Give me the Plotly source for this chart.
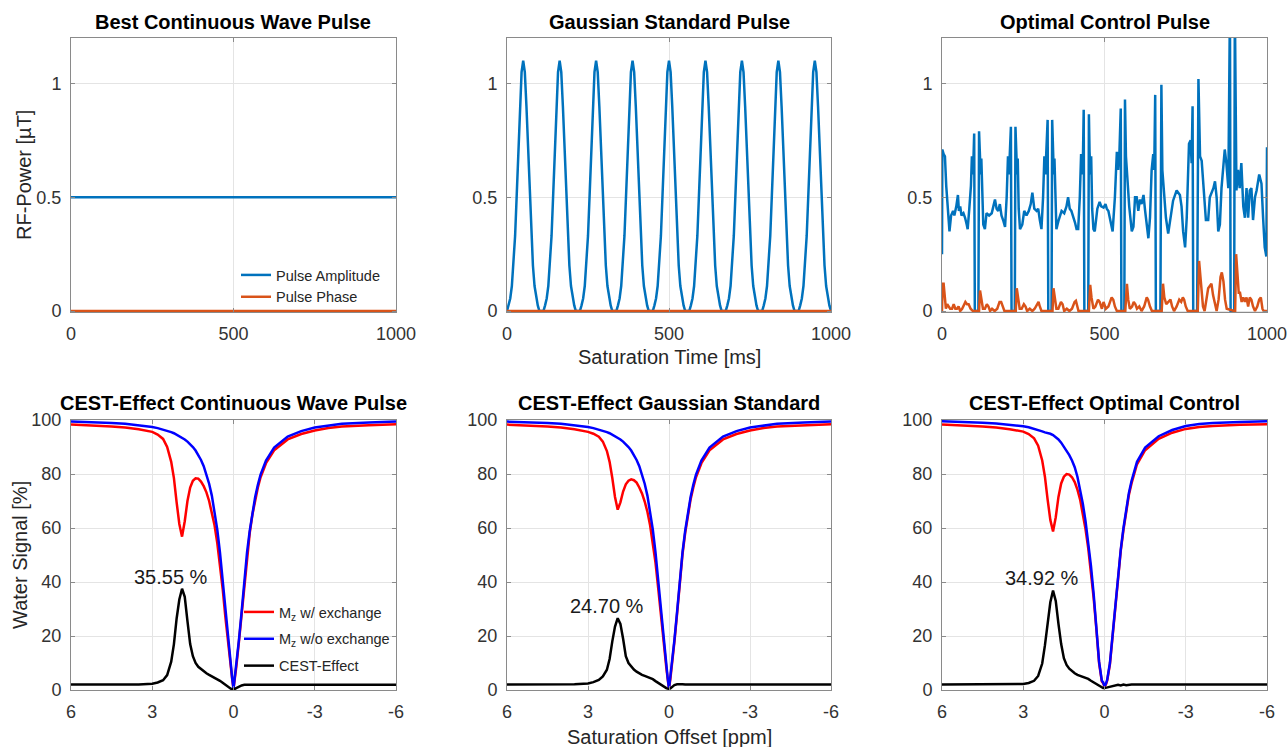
import plotly.graph_objects as go

W, H = 1288, 747

# ---------------- top row: RF pulses ----------------
cw_time = [0, 1000]
cw_amp = [0.5, 0.5]
cw_phase = [0.0, 0.0]

gauss_centers = [50, 162.5, 275, 387.5, 500, 612.5, 725, 837.5, 950]
gauss_shape_dt = [-50, -45, -40, -35, -30, -25, -20, -15, -10, -5, 0,
                  5, 10, 15, 20, 25, 30, 35, 40, 45, 50]
gauss_shape_amp = [0.0, 0.025, 0.055, 0.11, 0.20, 0.33, 0.51, 0.71, 0.90, 1.05, 1.10,
                   1.05, 0.90, 0.71, 0.51, 0.33, 0.20, 0.11, 0.055, 0.025, 0.0]
gauss_phase_time = [0, 1000]
gauss_phase = [0.0, 0.0]

oc_time = [0, 1, 5, 9, 13, 17, 23, 28, 34, 38, 44, 49, 52, 56, 60, 66, 71, 76, 79, 84, 89, 92, 95, 97, 99, 101, 112, 114, 116, 119, 121,
           124, 127, 132, 137, 145, 153, 158, 163, 168, 173, 178, 183, 188, 194, 199, 203, 206, 209, 212, 214, 224, 226, 228, 231, 233,
           236, 240, 247, 253, 260, 267, 273, 278, 284, 291, 296, 301, 306, 311, 315, 318, 321, 325, 327, 337, 339, 341, 344, 346,
           349, 352, 359, 368, 376, 383, 388, 393, 398, 403, 409, 414, 419, 424, 428, 431, 434, 436, 438, 450, 452, 454, 457, 459,
           462, 466, 470, 478, 485, 490, 497, 503, 507, 512, 517, 525, 532, 538, 542, 546, 550, 552, 561, 563, 566,
           571, 576, 584, 589, 594, 599, 604, 609, 614, 620, 625, 630, 635, 640, 645, 650, 653, 656, 658, 672, 675, 678,
           683, 689, 696, 703, 711, 722, 732, 737, 742, 748, 753, 760, 765, 768, 771, 773, 785, 789, 794,
           799, 804, 812, 819, 824, 835, 840, 845, 850, 855, 860, 870, 875, 881, 886, 888, 899, 901, 906,
           911, 916, 921, 927, 932, 937, 942, 947, 952, 957, 963, 968, 976, 983, 988, 993, 998, 1000]
oc_amp = [0.25, 0.71, 0.69, 0.68, 0.55, 0.45, 0.35, 0.42, 0.44, 0.42, 0.46, 0.51, 0.44, 0.46, 0.42, 0.43, 0.41, 0.38, 0.36, 0.45, 0.55, 0.68, 0.60, 0.68, 0.78, 0.0, 0.0, 0.79, 0.68, 0.60, 0.67,
          0.45, 0.38, 0.36, 0.43, 0.42, 0.43, 0.46, 0.49, 0.45, 0.44, 0.47, 0.42, 0.40, 0.37, 0.50, 0.68, 0.60, 0.68, 0.81, 0.0, 0.0, 0.81, 0.68, 0.60, 0.67,
          0.45, 0.36, 0.38, 0.44, 0.42, 0.44, 0.47, 0.52, 0.45, 0.44, 0.45, 0.40, 0.36, 0.50, 0.68, 0.60, 0.69, 0.84, 0.0, 0.0, 0.84, 0.69, 0.60, 0.67,
          0.45, 0.36, 0.40, 0.44, 0.43, 0.46, 0.50, 0.45, 0.44, 0.42, 0.39, 0.36, 0.36, 0.50, 0.69, 0.60, 0.70, 0.885, 0.0, 0.0, 0.865, 0.70, 0.60, 0.68,
          0.45, 0.36, 0.35, 0.45, 0.48, 0.46, 0.455, 0.47, 0.45, 0.44, 0.41, 0.35, 0.50, 0.70, 0.62, 0.70, 0.89, 0.0, 0.0, 0.93, 0.68,
          0.56, 0.46, 0.35, 0.37, 0.50, 0.50, 0.44, 0.49, 0.47, 0.51, 0.44, 0.37, 0.32, 0.41, 0.62, 0.69, 0.62, 0.95, 0.0, 0.0, 0.995, 0.62,
          0.54, 0.41, 0.34, 0.40, 0.485, 0.53, 0.51, 0.46, 0.35, 0.28, 0.41, 0.735, 0.75, 0.65, 0.90, 0.0, 0.0, 1.02, 0.68,
          0.66, 0.54, 0.40, 0.40, 0.50, 0.54, 0.57, 0.50, 0.35, 0.38, 0.54, 0.71, 0.65, 0.54, 1.35, 0.0, 0.0, 1.35, 0.53,
          0.62, 0.54, 0.65, 0.46, 0.41, 0.54, 0.41, 0.53, 0.54, 0.40, 0.50, 0.53, 0.60, 0.56, 0.41, 0.28, 0.24, 0.72]

oc_phase_time = [0, 2, 5, 9, 12, 16, 20, 25, 31, 36, 41, 46, 51, 56, 62, 68, 72, 77, 82, 88, 95, 112,
                 114, 117, 121, 126, 132, 138, 143, 148, 154, 162, 170, 177, 182, 187, 192, 224,
                 227, 230, 234, 239, 245, 252, 257, 262, 270, 278, 285, 293, 297, 301, 306, 337,
                 340, 343, 347, 352, 358, 366, 371, 376, 384, 392, 400, 408, 412, 416, 420, 450,
                 452, 456, 460, 466, 472, 480, 485, 492, 497, 504, 512, 522, 527, 532, 538, 561,
                 564, 569, 573, 578, 585, 590, 595, 600, 607, 614, 622, 630, 634, 640, 646, 672,
                 676, 680, 684, 690, 697, 703, 708, 714, 722, 730, 736, 741, 745, 750, 756, 785,
                 787, 791, 795, 799, 803, 808, 814, 819, 824, 829, 834, 839, 845, 851, 857, 861, 866, 871, 876, 899,
                 902, 905, 909, 913, 917, 922, 927, 932, 937, 942, 947, 952, 957, 963, 970, 976, 981, 986, 990, 1000]
oc_phase = [0.0, 0.12, 0.12, 0.04, 0.01, 0.03, 0.02, 0.01, 0.01, 0.03, 0.01, 0.01, 0.02, 0.0, 0.01, 0.03, 0.04, 0.03, 0.03, 0.01, 0.0, 0.0,
            0.0, 0.09, 0.05, 0.01, 0.01, 0.03, 0.02, 0.0, 0.01, 0.0, 0.01, 0.04, 0.04, 0.02, 0.0, 0.0,
            0.0, 0.10, 0.05, 0.01, 0.01, 0.03, 0.02, 0.0, 0.01, 0.0, 0.01, 0.03, 0.04, 0.02, 0.0, 0.0,
            0.0, 0.10, 0.05, 0.01, 0.01, 0.04, 0.03, 0.0, 0.01, 0.0, 0.01, 0.04, 0.045, 0.02, 0.0, 0.0,
            0.0, 0.115, 0.06, 0.01, 0.02, 0.05, 0.04, 0.01, 0.04, 0.01, 0.02, 0.06, 0.05, 0.02, 0.0, 0.0,
            0.0, 0.12, 0.05, 0.01, 0.02, 0.04, 0.03, 0.01, 0.02, 0.0, 0.02, 0.06, 0.05, 0.02, 0.0, 0.0,
            0.0, 0.12, 0.06, 0.03, 0.04, 0.05, 0.02, 0.0, 0.02, 0.05, 0.04, 0.06, 0.05, 0.02, 0.0, 0.0,
            0.0, 0.22, 0.15, 0.10, 0.02, 0.0, 0.05, 0.10, 0.11, 0.12, 0.07, 0.03, 0.0, 0.05, 0.15, 0.17, 0.13, 0.05, 0.01, 0.0,
            0.0, 0.25, 0.14, 0.08, 0.08, 0.04, 0.06, 0.04, 0.06, 0.02, 0.06, 0.05, 0.02, 0.0, 0.02, 0.05, 0.06, 0.01, 0.0, 0.0]

# ---------------- bottom row: Z-spectra ----------------
offsets = [6, 5.5, 5, 4.5, 4, 3.5, 3, 2.8, 2.6, 2.45, 2.3, 2.2, 2.1, 2.0,
           1.9, 1.8, 1.7, 1.6, 1.5, 1.4, 1.3, 1.2, 1.1, 1.0,
           0.9, 0.8, 0.7, 0.6, 0.5, 0.4, 0.3, 0.2, 0.1, 0.05, 0.0,
           -0.05, -0.1, -0.2, -0.3, -0.4, -0.5, -0.6, -0.7, -0.8, -0.9, -1.0,
           -1.2, -1.5, -2.0, -2.5, -3.0, -3.5, -4.0, -5.0, -6.0]

cw_mz_wo = [99.4, 99.3, 99.1, 98.9, 98.6, 98.1, 97.4, 97.0, 96.5, 96.0, 95.5, 95.1, 94.6, 94.1,
            93.5, 92.8, 92.0, 91.1, 90.0, 88.7, 87.1, 85.2, 82.9, 80.0,
            76.4, 72.0, 66.5, 59.5, 51.0, 40.5, 29.0, 18.5, 9.0, 4.5, 0.5,
            4.5, 9.0, 18.5, 29.0, 40.5, 51.0, 59.0, 66.0, 71.5, 76.0, 79.8,
            85.0, 89.8, 93.9, 95.9, 97.2, 98.0, 98.6, 99.1, 99.4]
cw_mz_w = [98.3, 98.1, 97.9, 97.6, 97.2, 96.6, 95.6, 94.6, 93.0, 90.0, 84.5, 78.5, 69.5, 61.5,
           56.8, 62.5, 70.0, 75.0, 77.5, 78.4, 78.3, 77.2, 75.5, 73.2,
           70.0, 66.0, 61.0, 54.5, 47.0, 37.5, 27.0, 17.0, 8.3, 4.2, 0.4,
           4.0, 8.3, 17.8, 28.3, 39.8, 50.2, 58.2, 65.1, 70.6, 75.0, 78.8,
           84.0, 88.8, 92.8, 94.8, 96.1, 97.0, 97.6, 98.1, 98.4]
cw_cest = [2.0, 2.0, 2.0, 2.0, 2.0, 2.0, 2.3, 2.8, 3.6, 5.5, 10.5, 17.0, 26.5, 33.5,
           37.5, 34.5, 25.5, 17.0, 12.5, 10.0, 8.6, 7.7, 6.9, 6.2,
           5.6, 5.1, 4.6, 4.1, 3.4, 2.7, 1.9, 1.1, 0.5, 0.3, 0.25,
           0.4, 0.7, 1.3, 1.7, 1.9, 1.95, 1.95, 1.9, 1.9, 1.9, 1.9,
           1.9, 1.9, 1.9, 1.9, 1.9, 1.9, 1.9, 1.9, 1.9]

gs_mz_wo = [99.4, 99.3, 99.1, 98.9, 98.6, 98.1, 97.4, 97.0, 96.5, 96.0, 95.5, 95.1, 94.6, 94.1,
            93.5, 92.8, 92.0, 91.1, 90.0, 88.7, 87.1, 85.2, 82.9, 80.0,
            76.4, 72.0, 66.5, 59.5, 51.0, 40.5, 29.0, 18.5, 9.0, 4.5, 0.5,
            4.5, 9.0, 18.5, 29.0, 40.5, 51.0, 59.0, 66.0, 71.5, 76.0, 79.8,
            85.0, 89.8, 93.9, 95.9, 97.2, 98.0, 98.6, 99.1, 99.4]
gs_mz_w = [98.3, 98.1, 97.9, 97.6, 97.2, 96.6, 95.6, 94.9, 93.8, 92.0, 88.5, 84.5, 78.5, 71.5,
           66.8, 69.5, 73.5, 76.2, 77.5, 78.0, 77.7, 76.8, 75.0, 72.8,
           69.8, 66.0, 61.0, 54.8, 47.2, 37.7, 27.2, 17.2, 8.4, 4.2, 0.5,
           4.0, 8.3, 17.8, 28.3, 39.8, 50.2, 58.2, 65.1, 70.6, 75.0, 78.8,
           84.0, 88.8, 92.8, 94.8, 96.1, 97.0, 97.6, 98.1, 98.4]
gs_cest = [2.0, 2.0, 2.0, 2.0, 2.0, 2.1, 2.4, 2.9, 3.7, 5.0, 7.5, 11.5, 18.0, 23.5,
           26.6, 24.5, 19.0, 12.5, 10.0, 8.7, 7.6, 6.8, 6.1, 5.6,
           5.2, 4.8, 4.4, 4.0, 3.3, 2.6, 1.9, 1.3, 0.7, 0.5, 0.4,
           0.6, 1.1, 1.8, 2.1, 2.2, 2.1, 2.0, 2.0, 2.0, 2.0, 2.0,
           2.0, 2.0, 2.0, 2.0, 2.0, 2.0, 2.0, 2.0, 2.0]

oc_mz_wo = [99.5, 99.4, 99.2, 99.0, 98.7, 98.3, 97.7, 97.3, 96.8, 96.3, 95.8, 95.4, 95.2, 94.9,
            94.4, 93.7, 92.8, 91.6, 90.2, 88.7, 87.0, 85.0, 82.5, 79.0,
            74.5, 69.0, 62.5, 55.0, 46.0, 35.5, 23.5, 10.5, 3.5, 2.8, 1.5,
            2.2, 3.8, 10.0, 20.5, 31.5, 42.5, 52.0, 60.0, 67.0, 73.0, 77.5,
            84.5, 89.8, 94.0, 96.3, 97.8, 98.5, 98.9, 99.3, 99.5]
oc_mz_w = [98.3, 98.1, 97.9, 97.6, 97.2, 96.6, 95.7, 94.8, 93.2, 90.5, 85.0, 79.0, 70.5, 63.0,
           58.7, 64.0, 71.5, 76.5, 79.0, 80.0, 79.8, 78.8, 77.0, 74.2,
           70.5, 65.5, 59.5, 52.5, 44.0, 34.0, 22.5, 10.0, 3.2, 2.5, 1.3,
           2.0, 3.5, 9.5, 20.0, 31.0, 42.0, 51.5, 59.3, 66.2, 72.2, 76.6,
           83.6, 88.8, 93.0, 95.3, 96.7, 97.4, 97.8, 98.2, 98.4]
oc_cest = [2.0, 2.0, 2.0, 2.0, 2.0, 2.0, 2.2, 2.6, 3.4, 5.2, 9.8, 16.5, 25.5, 32.5,
           36.8, 33.0, 24.5, 17.0, 11.8, 9.3, 7.9, 7.0, 6.2, 5.6,
           5.2, 4.9, 4.6, 4.1, 3.4, 2.8, 2.0, 1.3, 0.8, 0.7, 0.7,
           0.8, 1.0, 1.3, 1.5, 1.6, 1.9, 1.7, 2.0, 1.8, 2.0, 2.0,
           2.0, 2.0, 2.0, 2.0, 2.0, 2.0, 2.0, 2.0, 2.0]

cest_labels = ["35.55 %", "24.70 %", "34.92 %"]
label_offset = 2.3

top_titles = ["Best Continuous Wave Pulse", "Gaussian Standard Pulse", "Optimal Control Pulse"]
bottom_titles = ["CEST-Effect Continuous Wave Pulse", "CEST-Effect Gaussian Standard", "CEST-Effect Optimal Control"]
top_xticks = [0, 500, 1000]
top_yticks = [0, 0.5, 1]
top_yticktext = ["0", "0.5", "1"]
bot_xticks = [6, 3, 0, -3, -6]
bot_xticktext = ["6", "3", "0", "-3", "-6"]
bot_yticks = [0, 20, 40, 60, 80, 100]

# ---------------- build Gaussian pulse train from the read shape ----------------
gauss_time, gauss_amp = [], []
for c in gauss_centers:
    for dt, a in zip(gauss_shape_dt, gauss_shape_amp):
        gauss_time.append(c + dt)
        gauss_amp.append(a)

# ---------------- styling ----------------
FONT = "Liberation Sans, Arial, Helvetica, sans-serif"
C_AMP = "#0072BD"
C_PH = "#D95319"
AXCOL = "#262626"

cols_px = [(71, 396), (507, 831), (942, 1267)]
top_px = (38, 312.4)
bot_px = (420, 690)


def xd(p):
    return p / W


def yd(p):
    return 1 - p / H


fig = go.Figure()

top_sets = [
    (cw_time, cw_amp, cw_time, cw_phase),
    (gauss_time, gauss_amp, gauss_phase_time, gauss_phase),
    (oc_time, oc_amp, oc_phase_time, oc_phase),
]
bot_sets = [
    (cw_mz_w, cw_mz_wo, cw_cest),
    (gs_mz_w, gs_mz_wo, gs_cest),
    (oc_mz_w, oc_mz_wo, oc_cest),
]

for i, (t_a, a, t_p, p) in enumerate(top_sets):
    ax = "" if i == 0 else str(i + 1)
    fig.add_trace(go.Scatter(x=t_a, y=a, mode="lines", line=dict(color=C_AMP, width=2.5),
                             name="Pulse Amplitude", showlegend=(i == 0), legend="legend",
                             xaxis="x" + ax, yaxis="y" + ax))
    fig.add_trace(go.Scatter(x=t_p, y=p, mode="lines", line=dict(color=C_PH, width=2.5),
                             name="Pulse Phase", showlegend=(i == 0), legend="legend",
                             xaxis="x" + ax, yaxis="y" + ax))

for i, (mw, mwo, ce) in enumerate(bot_sets):
    ax = str(i + 4)
    fig.add_trace(go.Scatter(x=offsets, y=mw, mode="lines", line=dict(color="#FF0000", width=2.5),
                             name="M<sub>z</sub> w/ exchange", showlegend=(i == 0), legend="legend2",
                             legendgroup="g1", xaxis="x" + ax, yaxis="y" + ax))
    fig.add_trace(go.Scatter(x=offsets, y=mwo, mode="lines", line=dict(color="#0000FF", width=2.5),
                             name="M<sub>z</sub> w/o exchange", showlegend=(i == 0), legend="legend2",
                             legendgroup="g2", xaxis="x" + ax, yaxis="y" + ax))
    fig.add_trace(go.Scatter(x=offsets, y=ce, mode="lines", line=dict(color="#000000", width=2.5),
                             name="CEST-Effect", showlegend=(i == 0), legend="legend2",
                             legendgroup="g3", xaxis="x" + ax, yaxis="y" + ax))

axis_common = dict(showline=True, linecolor="#8a8a8a", linewidth=1, mirror="allticks",
                   ticks="inside", ticklen=4, tickcolor="#8a8a8a", tickwidth=1,
                   showgrid=True, gridcolor="#e4e4e4", gridwidth=1, zeroline=False,
                   tickfont=dict(family=FONT, size=18, color="#333333"),
                   ticklabelstandoff=5, fixedrange=True, automargin=False)

layout = dict(
    width=W, height=H, margin=dict(l=0, r=0, t=0, b=0, pad=0, autoexpand=False),
    paper_bgcolor="white", plot_bgcolor="white",
    font=dict(family=FONT, color=AXCOL),
)

for i in range(3):
    ax = "" if i == 0 else str(i + 1)
    x0, x1 = cols_px[i]
    layout["xaxis" + ax] = dict(axis_common, domain=[xd(x0), xd(x1)], range=[0, 1000],
                                tickvals=top_xticks, anchor="y" + ax)
    layout["yaxis" + ax] = dict(axis_common, domain=[yd(top_px[1]), yd(top_px[0])], range=[-0.006, 1.2],
                                tickvals=top_yticks, ticktext=top_yticktext, anchor="x" + ax)
for i in range(3):
    ax = str(i + 4)
    x0, x1 = cols_px[i]
    layout["xaxis" + ax] = dict(axis_common, domain=[xd(x0), xd(x1)], range=[6, -6],
                                tickvals=bot_xticks, ticktext=bot_xticktext, anchor="y" + ax)
    layout["yaxis" + ax] = dict(axis_common, domain=[yd(bot_px[1]), yd(bot_px[0])], range=[0, 100],
                                tickvals=bot_yticks, anchor="x" + ax)

layout["legend"] = dict(x=xd(236), y=yd(259), xanchor="left", yanchor="top",
                        bgcolor="rgba(0,0,0,0)", borderwidth=0, tracegroupgap=0,
                        font=dict(family=FONT, size=14.5, color=AXCOL), itemwidth=30)
layout["legend2"] = dict(x=xd(239), y=yd(596), xanchor="left", yanchor="top",
                         bgcolor="rgba(0,0,0,0)", borderwidth=0, tracegroupgap=5,
                         font=dict(family=FONT, size=14.5, color=AXCOL), itemwidth=30)

ann = []
for i in range(3):
    x0, x1 = cols_px[i]
    cx = (x0 + x1) / 2
    ann.append(dict(text="<b>" + top_titles[i] + "</b>", x=xd(cx), y=yd(22), xref="paper", yref="paper",
                    showarrow=False, xanchor="center", yanchor="middle",
                    font=dict(family=FONT, size=20, color="#000000")))
    ann.append(dict(text="<b>" + bottom_titles[i] + "</b>", x=xd(cx), y=yd(403), xref="paper", yref="paper",
                    showarrow=False, xanchor="center", yanchor="middle",
                    font=dict(family=FONT, size=20, color="#000000")))
    ce = bot_sets[i][2]
    ann.append(dict(text=cest_labels[i], x=label_offset, y=max(ce) + 4.5,
                    xref="x" + str(i + 4), yref="y" + str(i + 4),
                    showarrow=False, xanchor="center", yanchor="middle",
                    font=dict(family=FONT, size=20, color="#1a1a1a")))

ann.append(dict(text="RF-Power [µT]", x=xd(24), y=yd(175), xref="paper", yref="paper", textangle=-90,
                showarrow=False, xanchor="center", yanchor="middle",
                font=dict(family=FONT, size=20, color=AXCOL)))
ann.append(dict(text="Water Signal [%]", x=xd(20), y=yd(555), xref="paper", yref="paper", textangle=-90,
                showarrow=False, xanchor="center", yanchor="middle",
                font=dict(family=FONT, size=20, color=AXCOL)))
ann.append(dict(text="Saturation Time [ms]", x=xd(669), y=yd(357), xref="paper", yref="paper",
                showarrow=False, xanchor="center", yanchor="middle",
                font=dict(family=FONT, size=20, color=AXCOL)))
ann.append(dict(text="Saturation Offset [ppm]", x=xd(669), y=yd(737), xref="paper", yref="paper",
                showarrow=False, xanchor="center", yanchor="middle",
                font=dict(family=FONT, size=20, color=AXCOL)))
layout["annotations"] = ann

fig.update_layout(**layout)
fig.write_html(
    "out.html",
    config={"displayModeBar": False},
    post_script="document.body.style.margin='0';document.body.style.padding='0';"
                "document.body.style.overflow='hidden';",
)
